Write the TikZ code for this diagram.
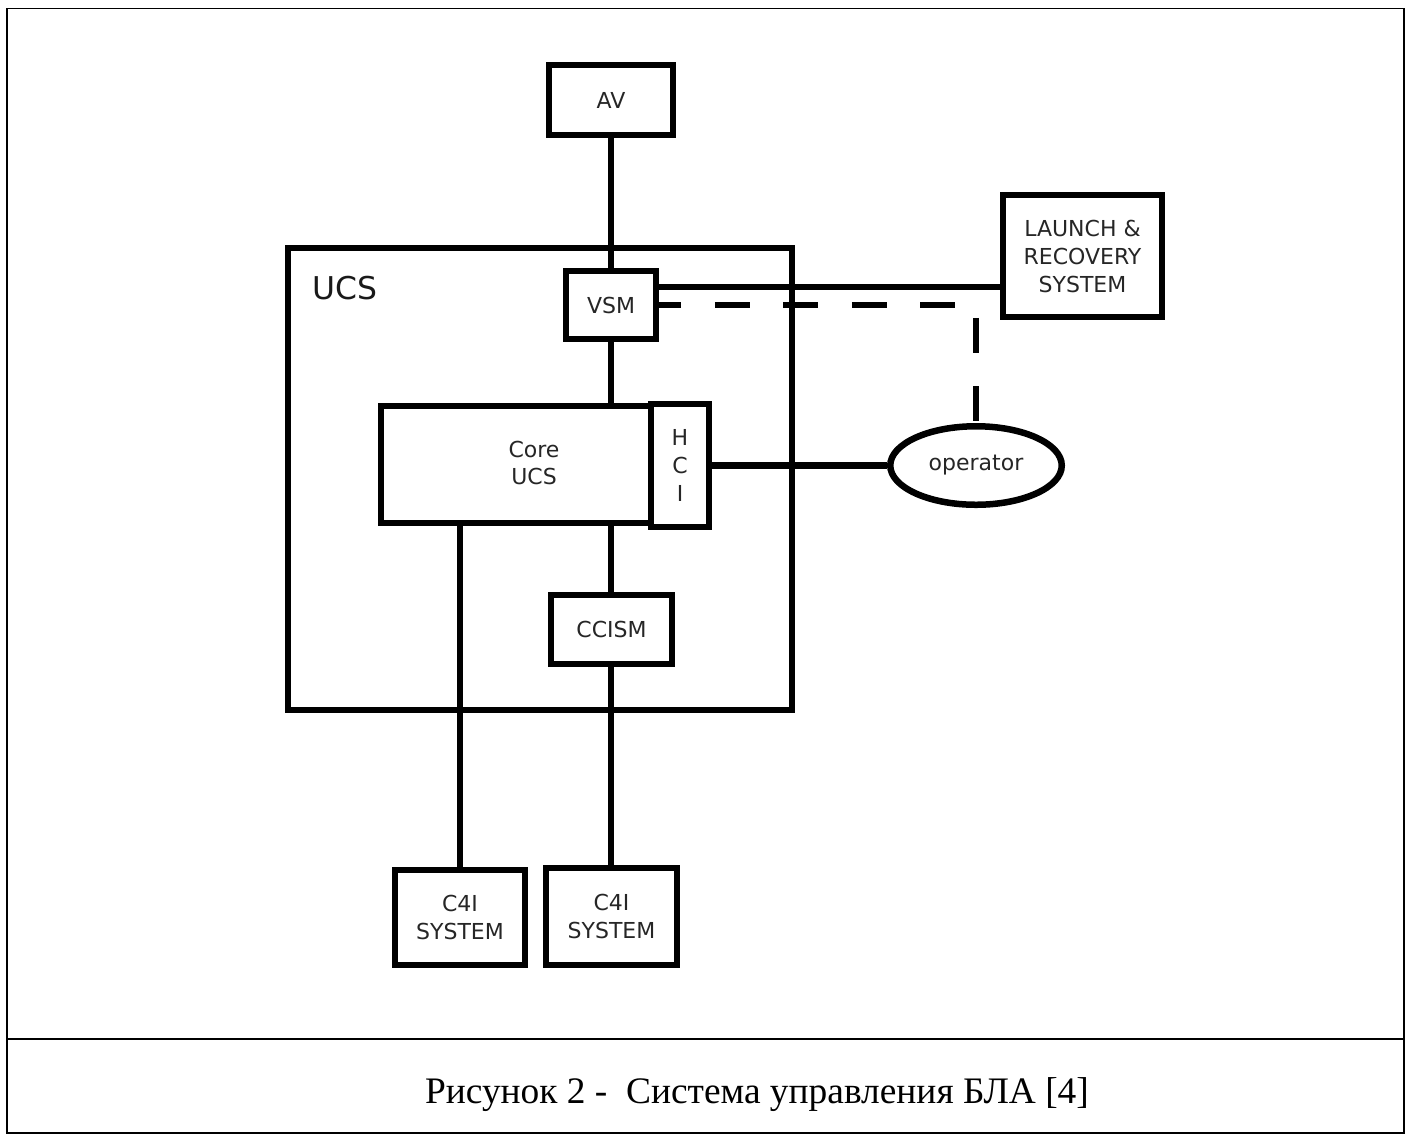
\documentclass[tikz,border=0pt]{standalone}
\usepackage{fontspec}
\usetikzlibrary{shapes.geometric}
\newfontfamily\dv{DejaVu Sans}
\newfontfamily\capfont{Liberation Serif}
\begin{document}
\begin{tikzpicture}[x=0.5pt,y=-0.5pt,
  box/.style={draw, line width=3.25pt, rectangle, inner sep=0pt, align=center,
    font=\dv\fontsize{11pt}{13.75pt}\selectfont, text=black!85},
  lbl/.style={inner sep=0pt, align=center, font=\dv\fontsize{11pt}{13.75pt}\selectfont, text=black!85},
  conn/.style={line width=3.25pt},
  dashconn/.style={line width=3.25pt, dash pattern=on 17.5pt off 16.75pt, dash phase=6.5pt},
  frame/.style={line width=0.85pt}]
\useasboundingbox (0,0) rectangle (1411,1137);
% frame
\draw[frame] (7,8.5) rectangle (1404,1133);
\draw[line width=1.1pt] (7,1039) -- (1404,1039);
% nodes
\node[box, minimum width=252pt, minimum height=231pt] (ucs) at (540,479) {};
\node[inner sep=0pt, font=\dv\fontsize{15.7pt}{18pt}\selectfont, text=black!90] (ucslbl) at (345,288) {UCS};
\node[box, minimum width=62pt, minimum height=35pt] (av) at (611,100) {AV};
\node[box, minimum width=45pt, minimum height=34pt] (vsm) at (611,305) {VSM};
\node[box, minimum width=79.5pt, minimum height=61pt, font=\dv\fontsize{11pt}{14pt}\selectfont] (lrs) at (1082.5,256) {LAUNCH \&\\RECOVERY\\SYSTEM};
\node[box, minimum width=135pt, minimum height=58.5pt] (core) at (516,464.5) {};
\node[lbl] (coretxt) at (534,463) {Core\\UCS};
\node[box, minimum width=29pt, minimum height=61.5pt, font=\dv\fontsize{11pt}{14pt}\selectfont] (hci) at (680,465.5) {H\\C\\I};
\node[draw, ellipse, line width=3.25pt, inner sep=0pt, minimum width=85.75pt, minimum height=39.25pt,
  font=\dv\fontsize{11pt}{13.75pt}\selectfont, text=black!85] (op) at (976,465.5) {operator};
\node[box, minimum width=60.5pt, minimum height=34.5pt] (ccism) at (611.5,629.5) {CCISM};
\node[box, minimum width=65pt, minimum height=47.5pt] (c4il) at (460,917.5) {C4I\\SYSTEM};
\node[box, minimum width=65.5pt, minimum height=48.5pt] (c4ir) at (611.5,916.5) {C4I\\SYSTEM};
% connectors
\draw[conn] (av.south) -- (vsm.north);
\draw[conn] (vsm.south) -- (vsm.south |- core.north);
\draw[conn] (core.south -| c4il.north) -- (c4il.north);
\draw[conn] (core.south -| vsm.south) -- (ccism.north -| vsm.south);
\draw[conn] (ccism.south -| vsm.south) -- (c4ir.north -| vsm.south);
\draw[conn] (hci.east) -- (op.west);
\draw[conn] ([yshift=9pt]vsm.east) -- ([yshift=9pt]vsm.east -| lrs.west);
\draw[dashconn] (vsm.east) -- (vsm.east -| op.north) -- (op.north);
% caption
\node[anchor=base, inner sep=0pt, font=\capfont\fontsize{18.7pt}{22pt}\selectfont] (cap) at (757,1103) {Рисунок 2 -\ \ Система управления БЛА [4]};
\end{tikzpicture}
\end{document}
